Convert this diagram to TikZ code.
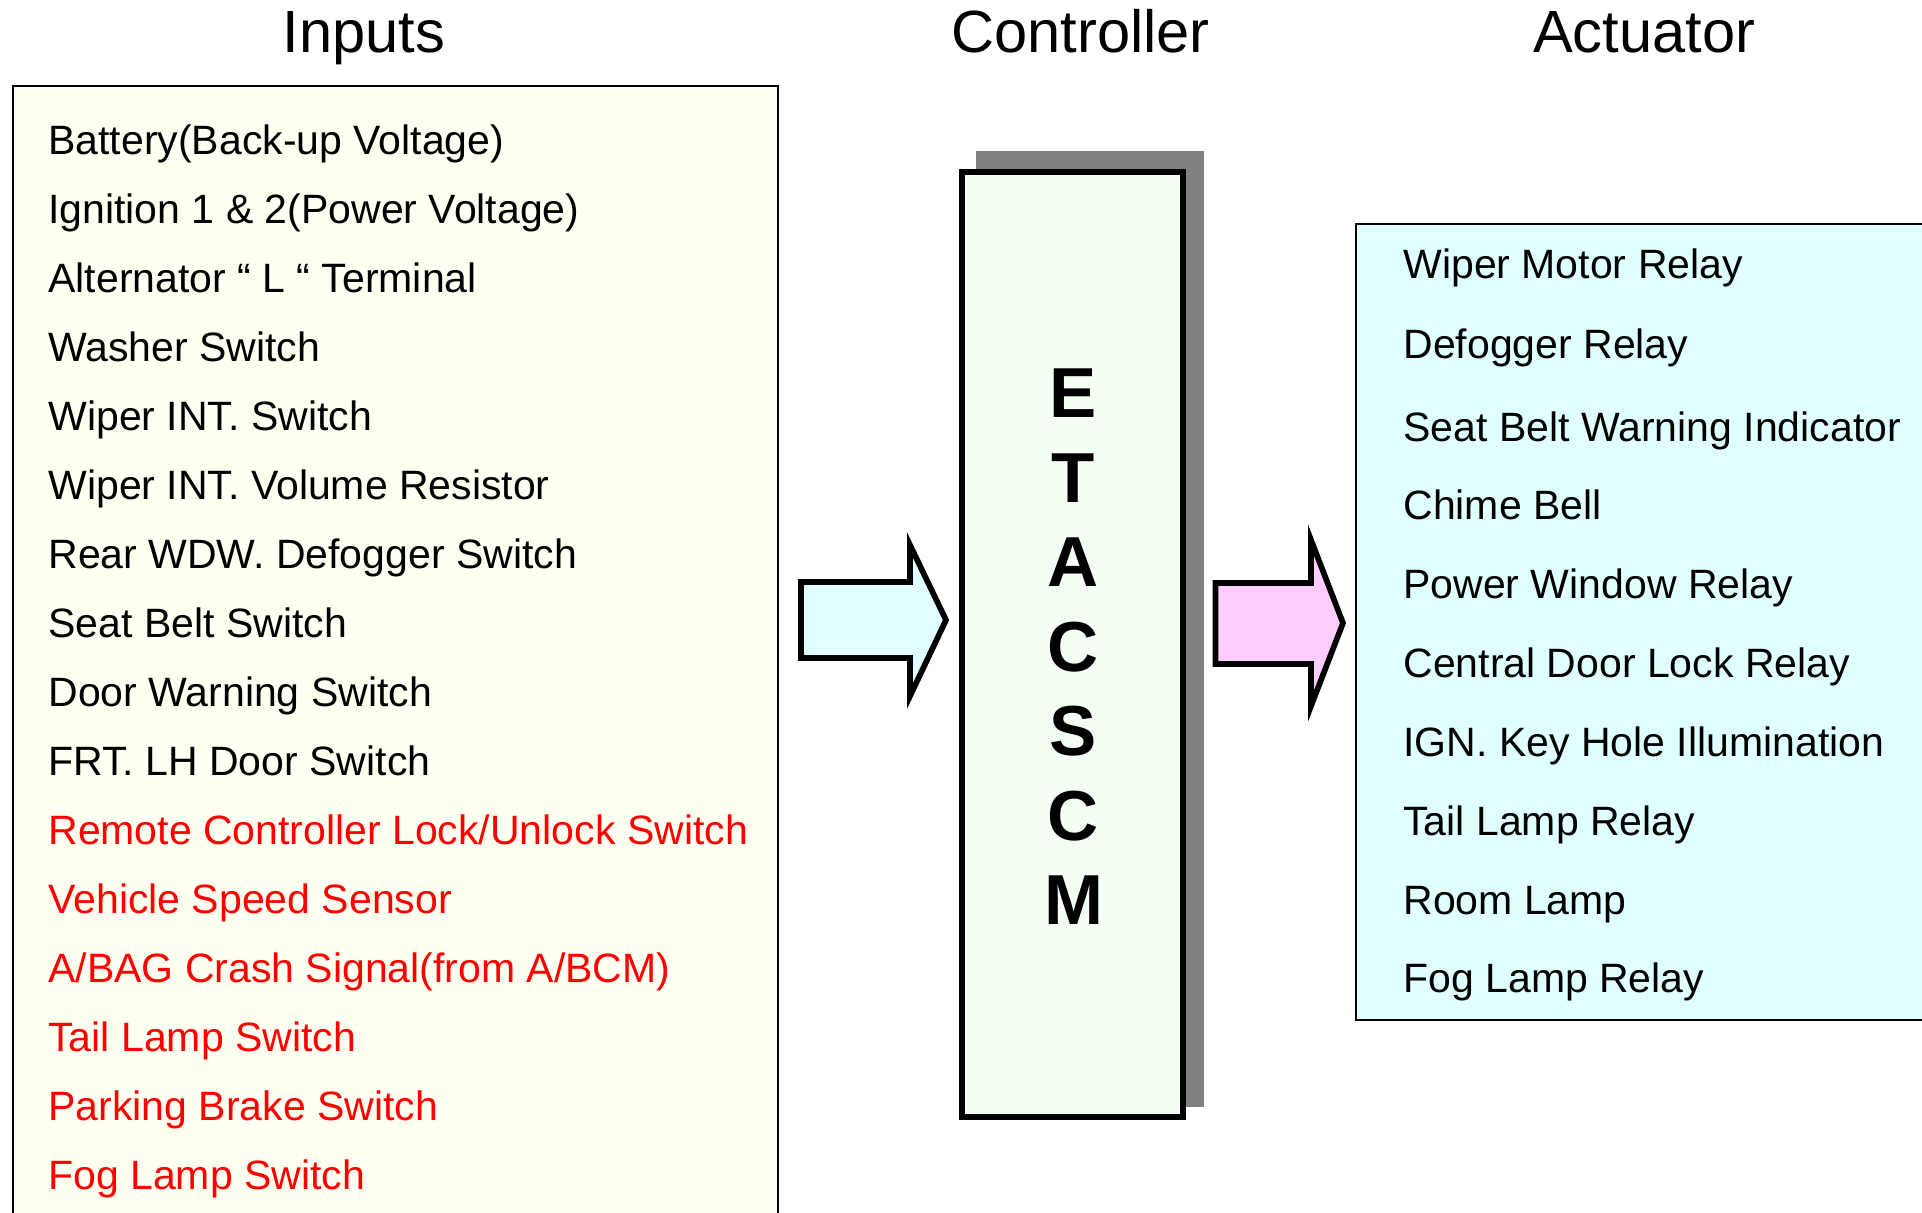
\documentclass[tikz,border=0pt]{standalone}
\usepackage{fontspec}
\setmainfont{Liberation Sans}
\definecolor{inbg}{HTML}{FFFFF2}
\definecolor{outbg}{HTML}{E0FFFF}
\definecolor{ctlbg}{HTML}{F4FFF4}
\definecolor{shadowgray}{HTML}{808080}
\definecolor{arrowin}{HTML}{E0FFFF}
\definecolor{arrowout}{HTML}{FFCCFF}
\definecolor{redtxt}{HTML}{FF0000}
\tikzset{
  title/.style={anchor=base, inner sep=0pt, font=\fontsize{29.8}{34}\selectfont},
  item/.style={anchor=base west, inner sep=0pt, font=\fontsize{20.5}{24}\selectfont},
  reditem/.style={item, text=redtxt},
  bigarrow/.style={draw=black, line width=2.85pt, line join=miter},
}
\begin{document}
\begin{tikzpicture}[x=0.5pt, y=-0.5pt]
\useasboundingbox (0,0) rectangle (1922,1212);
\clip (0,0) rectangle (1922,1212);
% titles
\node[title] (tin) at (364,52.7) {Inputs};
\node[title] (tctl) at (1080.5,52.7) {Controller};
\node[title] (tact) at (1644,52.7) {Actuator};
% input box
\draw[fill=inbg, line width=1pt] (13,86) rectangle (778,1240);
\foreach \t [count=\i from 0] in {Battery(Back-up Voltage),Ignition 1 \& 2(Power Voltage),Alternator “ L “ Terminal,Washer Switch,Wiper INT. Switch,Wiper INT. Volume Resistor,Rear WDW. Defogger Switch,Seat Belt Switch,Door Warning Switch,FRT. LH Door Switch}
  \node[item] (in\i) at (48,{154.5+69*\i}) {\t};
\foreach \t [count=\i from 10] in {Remote Controller Lock/Unlock Switch,Vehicle Speed Sensor,A/BAG Crash Signal(from A/BCM),Tail Lamp Switch,Parking Brake Switch,Fog Lamp Switch}
  \node[reditem] (in\i) at (48,{154.5+69*\i}) {\t};
% controller
\fill[shadowgray] (976,151) rectangle (1204,1107);
\draw[fill=ctlbg, line width=3pt] (962,172) rectangle (1183,1117) ;
\node[inner sep=0pt, align=center, font=\fontsize{35.4}{42.25}\bfseries\selectfont] (etacsm) at (1073.5,647) {E\\T\\A\\C\\S\\C\\M};
% arrows
\draw[bigarrow, fill=arrowin] (801,582) -- (910,582) -- (910,545) -- (946,620) -- (910,696) -- (910,658) -- (801,658) -- cycle;
\draw[bigarrow, fill=arrowout] (1215.5,583) -- (1311,583) -- (1311,540) -- (1343,623) -- (1311,706) -- (1311,664) -- (1215.5,664) -- cycle;
% actuator box
\draw[fill=outbg, line width=1pt] (1356,224) rectangle (1960,1020);
\foreach \t/\y [count=\i] in {Wiper Motor Relay/278.5,Defogger Relay/358.5,Seat Belt Warning Indicator/441.5,Chime Bell/519.5,Power Window Relay/598.5,Central Door Lock Relay/677.5,IGN. Key Hole Illumination/756.5,Tail Lamp Relay/835.5,Room Lamp/914.5,Fog Lamp Relay/992.5}
  \node[item] (out\i) at (1403,\y) {\t};
\end{tikzpicture}
\end{document}
